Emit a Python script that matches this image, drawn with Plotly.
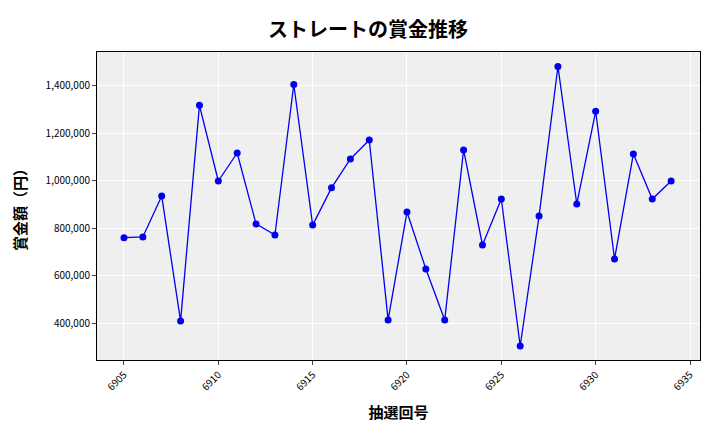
import plotly.graph_objects as go

draws = list(range(6905, 6935))
prizes = [760000, 763000, 936000, 408000, 1318000, 999000, 1117000, 818000, 771000, 1406000,
          813000, 970000, 1092000, 1172000, 413000, 868000, 628000, 413000, 1130000, 729000,
          923000, 303000, 851000, 1482000, 902000, 1293000, 670000, 1113000, 923000, 999000]

font = "Noto Sans CJK JP"
fig = go.Figure(go.Scatter(
    x=draws, y=prizes, mode="lines+markers",
    line=dict(color="#0000ee", width=1.3),
    marker=dict(color="#0000ee", size=7),
))
fig.update_layout(
    width=720, height=432,
    margin=dict(l=87, r=28, t=44, b=80),
    paper_bgcolor="white", plot_bgcolor="#efefef",
    font=dict(family=font, size=10, color="black"),
    title=dict(text="<b>ストレートの賞金推移</b>", x=0.5, xanchor="center", y=0.965,
               font=dict(size=20, family=font)),
    showlegend=False,
)
fig.update_xaxes(
    range=[6903.57, 6935.53], tickvals=list(range(6905, 6936, 5)), tickangle=-45,
    showgrid=True, gridcolor="white", ticks="outside", ticklen=4,
    showline=True, linecolor="black", mirror=True, zeroline=False,
    title=dict(text="<b>抽選回号</b>", font=dict(size=15, family=font)),
)
fig.update_yaxes(
    range=[244000, 1543000], tickvals=[400000, 600000, 800000, 1000000, 1200000, 1400000],
    tickformat=",d", showgrid=True, gridcolor="white", ticks="outside", ticklen=4,
    showline=True, linecolor="black", mirror=True, zeroline=False,
    title=dict(text="<b>賞金額（円）</b>", font=dict(size=15, family=font)),
)
fig.write_html("out.html")
